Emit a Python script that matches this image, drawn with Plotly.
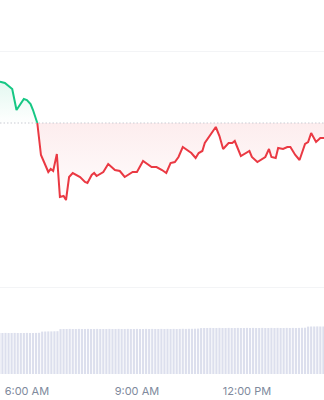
import plotly.graph_objects as go

DAY = "2024-05-01 "

# price line (time, price)
price_times = ["05:10", "05:16", "05:24", "05:32", "05:36", "05:43", "05:49", "05:55", "06:00", "06:06",
               "06:10", "06:17", "06:23", "06:28", "06:35", "06:39", "06:43", "06:49", "06:54", "07:00",
               "07:04", "07:09", "07:15", "07:27", "07:35", "07:39", "07:46", "07:50", "07:54", "08:05",
               "08:13", "08:24", "08:32", "08:40", "08:53", "09:00", "09:10", "09:24", "09:32", "09:41",
               "09:48", "09:55", "10:02", "10:08", "10:15", "10:29", "10:36", "10:41", "10:47", "10:51",
               "11:00", "11:09", "11:15", "11:21", "11:30", "11:36", "11:40", "11:47", "11:50", "12:04",
               "12:08", "12:17", "12:25", "12:30", "12:36", "12:40", "12:47", "12:51", "12:59", "13:06",
               "13:11", "13:19", "13:26", "13:35", "13:40", "13:45", "13:53", "14:00", "14:06", "14:12"]
price_values = [0.3200, 0.3183, 0.3170, 0.3130, 0.3110, 0.2900, 0.2960, 0.3010, 0.3000, 0.2960,
                0.2900, 0.2770, 0.2450, 0.2380, 0.2280, 0.2310, 0.2290, 0.2460, 0.2030, 0.2040,
                0.2000, 0.2230, 0.2270, 0.2230, 0.2180, 0.2170, 0.2250, 0.2270, 0.2240, 0.2280,
                0.2360, 0.2300, 0.2290, 0.2230, 0.2280, 0.2280, 0.2390, 0.2330, 0.2330, 0.2300,
                0.2270, 0.2370, 0.2380, 0.2430, 0.2530, 0.2470, 0.2420, 0.2470, 0.2490, 0.2570,
                0.2650, 0.2730, 0.2640, 0.2510, 0.2570, 0.2570, 0.2590, 0.2470, 0.2440, 0.2490,
                0.2430, 0.2380, 0.2410, 0.2430, 0.2510, 0.2430, 0.2420, 0.2520, 0.2510, 0.2530,
                0.2530, 0.2450, 0.2400, 0.2560, 0.2580, 0.2670, 0.2580, 0.2620, 0.2620, 0.2630]
open_price = 0.2770
cross_index = 11  # point where the price crosses the open price

# volume bars (5-minute)
volume_times = ("05:15 05:20 05:25 05:30 05:35 05:40 05:45 05:50 05:55 "
                "06:00 06:05 06:10 06:15 06:20 06:25 06:30 06:35 06:40 06:45 06:50 06:55 "
                "07:00 07:05 07:10 07:15 07:20 07:25 07:30 07:35 07:40 07:45 07:50 07:55 "
                "08:00 08:05 08:10 08:15 08:20 08:25 08:30 08:35 08:40 08:45 08:50 08:55 "
                "09:00 09:05 09:10 09:15 09:20 09:25 09:30 09:35 09:40 09:45 09:50 09:55 "
                "10:00 10:05 10:10 10:15 10:20 10:25 10:30 10:35 10:40 10:45 10:50 10:55 "
                "11:00 11:05 11:10 11:15 11:20 11:25 11:30 11:35 11:40 11:45 11:50 11:55 "
                "12:00 12:05 12:10 12:15 12:20 12:25 12:30 12:35 12:40 12:45 12:50 12:55 "
                "13:00 13:05 13:10 13:15 13:20 13:25 13:30 13:35 13:40 13:45 13:50 13:55 "
                "14:00 14:05 14:10").split()
volume_values = [41.0, 41.0, 41.1, 41.0, 41.0, 41.1, 41.0, 41.0, 41.0, 41.1, 41.0, 41.0, 41.1, 41.2,
                 42.4, 42.5, 42.6, 42.6, 42.7, 42.8,
                 44.9, 45.0, 45.0, 45.1, 45.0, 45.0, 45.1, 45.0, 45.0, 45.1, 45.0, 45.0, 45.1, 45.0,
                 45.0, 45.0, 45.1, 45.0, 45.0, 45.1, 45.0, 45.0, 45.1, 45.0, 45.0, 45.1, 45.0, 45.0,
                 45.1, 45.0, 45.1, 45.0, 45.0, 45.1, 45.0, 45.1, 45.0, 45.1, 45.0, 45.1, 45.2, 45.1,
                 45.2, 45.2, 45.3, 45.4,
                 45.9, 46.0, 46.0, 46.1, 46.0, 46.0, 46.1, 46.0, 46.0, 46.1, 46.0, 46.0, 46.1, 46.0,
                 46.0, 46.1, 46.0, 46.1, 46.0, 46.0, 46.1, 46.0, 46.0, 46.1, 46.0, 46.1, 46.0, 46.0,
                 46.1, 46.0, 46.1, 46.0, 46.1, 46.2, 46.3,
                 47.4, 47.5, 47.5, 47.6, 47.5, 47.5, 47.6]

tick_times = ["06:00", "09:00", "12:00"]
grid_prices = [0.349, 0.113]

GREEN = "#16c784"
RED = "#ea3943"

def ts(lst):
    return [DAY + t for t in lst]

px = ts(price_times)
g_x, g_y = px[:cross_index + 1], price_values[:cross_index + 1]
r_x, r_y = px[cross_index:], price_values[cross_index:]

fig = go.Figure()
fig.add_trace(go.Bar(x=ts(volume_times), y=volume_values, yaxis="y2",
                     marker=dict(color="#dcdfed", line=dict(width=0)), hoverinfo="skip"))
# green section
fig.add_trace(go.Scatter(x=[g_x[0], g_x[-1]], y=[open_price, open_price], mode="lines",
                         line=dict(width=0), hoverinfo="skip"))
fig.add_trace(go.Scatter(x=g_x, y=g_y, mode="lines", fill="tonexty",
                         line=dict(color=GREEN, width=2),
                         fillgradient=dict(type="vertical", start=open_price, stop=0.32,
                                           colorscale=[[0, "rgba(22,199,132,0)"], [1, "rgba(22,199,132,0.12)"]])))
# red section
fig.add_trace(go.Scatter(x=[r_x[0], r_x[-1]], y=[open_price, open_price], mode="lines",
                         line=dict(width=0), hoverinfo="skip"))
fig.add_trace(go.Scatter(x=r_x, y=r_y, mode="lines", fill="tonexty",
                         line=dict(color=RED, width=2),
                         fillgradient=dict(type="vertical", start=0.19, stop=open_price,
                                           colorscale=[[0, "rgba(234,57,67,0)"], [1, "rgba(234,57,67,0.09)"]])))

fig.add_shape(type="line", xref="paper", x0=0, x1=1, yref="y", y0=open_price, y1=open_price,
              line=dict(color="#c9ccd3", width=1, dash="1.5px,2px"))

fig.update_layout(
    width=324, height=400,
    margin=dict(l=0, r=0, t=0, b=26),
    paper_bgcolor="white", plot_bgcolor="white",
    showlegend=False, bargap=0.3,
    font=dict(family="Inter", size=11, color="#808a9d"),
    xaxis=dict(range=[DAY + "05:16", DAY + "14:06"], showgrid=False, zeroline=False,
               showline=False, ticks="", tickvals=ts(tick_times), tickformat="%-I:%M %p",
               ticklabelstandoff=9,
               tickfont=dict(family="Inter", size=11, color="#808a9d")),
    yaxis=dict(range=[0.026, 0.4], tickvals=grid_prices, showticklabels=False,
               showgrid=True, gridcolor="#f3f4f6", gridwidth=1, zeroline=False, fixedrange=True),
    yaxis2=dict(range=[0, 374], overlaying="y", showgrid=False, showticklabels=False,
                zeroline=False),
)

fig.write_html("out.html")
